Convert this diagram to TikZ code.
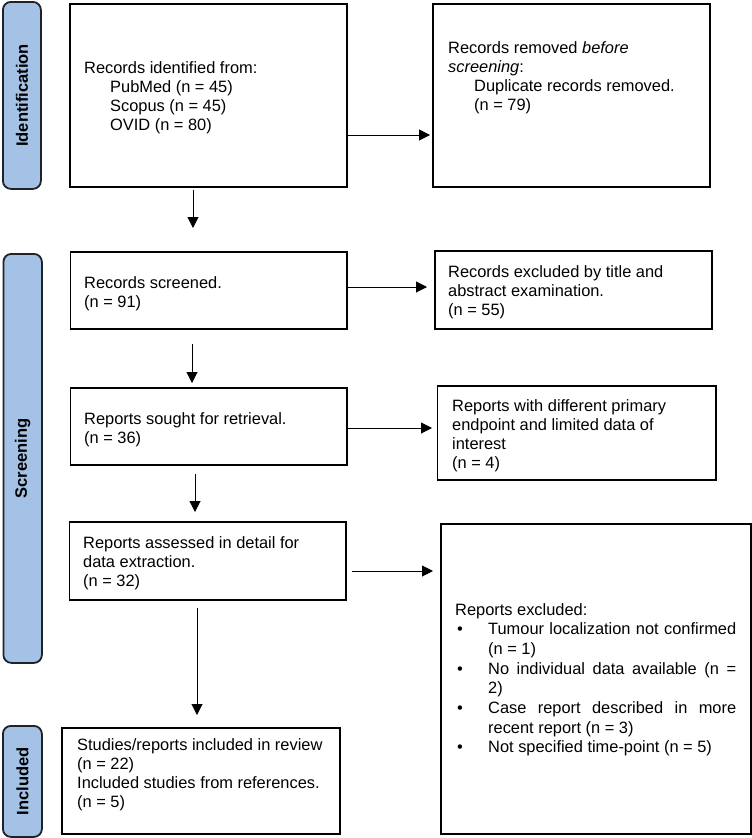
\documentclass[tikz,border=0pt]{standalone}
\usepackage{fontspec}
\setmainfont{Liberation Sans}
\usetikzlibrary{arrows.meta}
\definecolor{barblue}{RGB}{164,194,230}
\definecolor{bardraw}{RGB}{30,34,42}
\newcommand{\itemline}[1]{\hspace*{2pt}\makebox[31pt][l]{\textbullet}\makebox[248pt][s]{#1}}
\newcommand{\contline}[1]{\hspace*{33pt}#1}
\begin{document}
\begin{tikzpicture}[x=1pt,y=-1pt,
  box/.style={draw=black, line width=1.8pt, anchor=north west, inner sep=0pt},
  bar/.style={draw=bardraw, fill=barblue, line width=1.8pt, rounded corners=8pt, anchor=north west, inner sep=0pt},
  bartext/.style={rotate=90, inner sep=0pt, font=\fontsize{16.5}{18}\selectfont\bfseries},
  txt/.style={anchor=north west, inner sep=0pt, align=left, font=\fontsize{16.4}{19.2}\selectfont},
  arr/.style={-{Triangle[length=11pt,width=11pt]}, line width=1pt}]
\useasboundingbox (0,0) rectangle (752,838);

% side bars
\node[bar, minimum width=38pt, minimum height=187pt] (s1) at (2,1) {};
\node[bar, minimum width=38.5pt, minimum height=409pt] (s2) at (2.5,253) {};
\node[bar, minimum width=39pt, minimum height=111pt] (s3) at (2,725) {};
\node[bartext] (l1) at (s1.center) {Identification};
\node[bartext] (l2) at (s2.center) {Screening};
\node[bartext] (l3) at (s3.center) {Included};

% boxes
\node[box, minimum width=277pt, minimum height=183pt] (b1) at (69,3) {};
\node[box, minimum width=277pt, minimum height=183pt] (b2) at (432,3) {};
\node[box, minimum width=276.5pt, minimum height=77pt] (b3) at (69.5,251) {};
\node[box, minimum width=277pt, minimum height=78pt] (b4) at (434,250) {};
\node[box, minimum width=276.5pt, minimum height=77pt] (b5) at (69.5,387) {};
\node[box, minimum width=278.5pt, minimum height=94pt] (b6) at (436.5,385) {};
\node[box, minimum width=276.5pt, minimum height=78pt] (b7) at (68.5,521) {};
\node[box, minimum width=310pt, minimum height=310pt] (b8) at (440,523) {};
\node[box, minimum width=278pt, minimum height=106pt] (b9) at (61,727) {};

% texts
\node[txt] (t1) at (84,61) {Records identified from:\\\hspace*{26pt}PubMed (n = 45)\\\hspace*{26pt}Scopus (n = 45)\\\hspace*{26pt}OVID (n = 80)};
\node[txt] (t2) at (448,41) {Records removed \textit{before}\\\textit{screening}:\\\hspace*{26pt}Duplicate records removed.\\\hspace*{26pt}(n = 79)};
\node[txt] (t3) at (84,276) {Records screened.\\(n = 91)};
\node[txt] (t4) at (448,265) {Records excluded by title and\\abstract examination.\\(n = 55)};
\node[txt] (t5) at (84,412) {Reports sought for retrieval.\\(n = 36)};
\node[txt] (t6) at (452,399) {Reports with different primary\\endpoint and limited data of\\interest\\(n = 4)};
\node[txt] (t7) at (83,536) {Reports assessed in detail for\\data extraction.\\(n = 32)};
\node[txt, font=\fontsize{16.4}{19.7}\selectfont] (t8) at (455,603) {Reports excluded:\\
\itemline{Tumour localization not confirmed}\\
\contline{(n = 1)}\\
\itemline{No individual data available (n =}\\
\contline{2)}\\
\itemline{Case report described in more}\\
\contline{recent report (n = 3)}\\
\hspace*{2pt}\makebox[31pt][l]{\textbullet}Not specified time-point (n = 5)};
\node[txt] (t9) at (77,738) {Studies/reports included in review\\(n = 22)\\Included studies from references.\\(n = 5)};

% helper coordinates for connector positions
\coordinate (y1) at (0,135);
\coordinate (x2) at (193,0);
\coordinate (y3) at (0,287);
\coordinate (x4) at (192,0);
\coordinate (y5) at (0,428);
\coordinate (x6) at (195,0);
\coordinate (y7) at (0,571);
\coordinate (x8) at (197,0);

% connectors
\draw[arr, shorten >=2pt] (b1.east |- y1) -- (b2.west |- y1);
\draw[arr, shorten <=2pt, shorten >=23pt] (b1.south -| x2) -- (b3.north -| x2);
\draw[arr, shorten >=7pt] (b3.east |- y3) -- (b4.west |- y3);
\draw[arr, shorten <=14pt, shorten >=4pt] (b3.south -| x4) -- (b5.north -| x4);
\draw[arr, shorten >=4.5pt] (b5.east |- y5) -- (b6.west |- y5);
\draw[arr, shorten <=8pt, shorten >=9pt] (b5.south -| x6) -- (b7.north -| x6);
\draw[arr, shorten <=5pt, shorten >=7pt] (b7.east |- y7) -- (b8.west |- y7);
\draw[arr, shorten <=7pt, shorten >=12pt] (b7.south -| x8) -- (b9.north -| x8);
\end{tikzpicture}
\end{document}
